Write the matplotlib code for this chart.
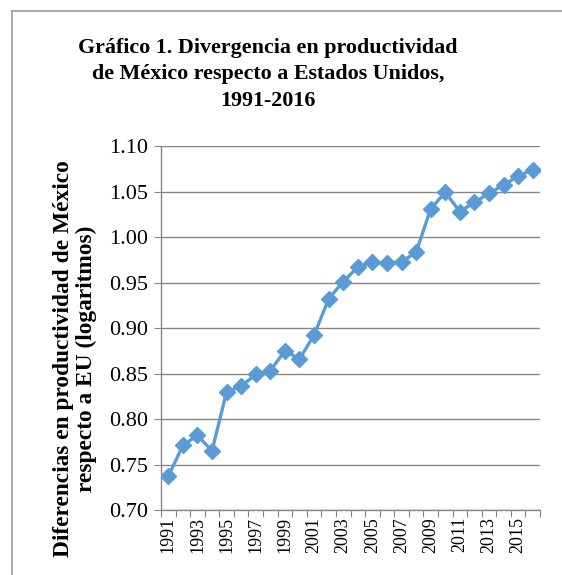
import matplotlib.pyplot as plt
from matplotlib.lines import Line2D
import numpy as np

years = list(range(1991, 2017))
valores = [0.737, 0.771, 0.782, 0.765, 0.830, 0.836, 0.849, 0.853, 0.875, 0.866,
           0.892, 0.932, 0.951, 0.967, 0.973, 0.971, 0.973, 0.983, 1.031, 1.049,
           1.028, 1.038, 1.048, 1.057, 1.067, 1.074]
yticks = [0.70, 0.75, 0.80, 0.85, 0.90, 0.95, 1.00, 1.05, 1.10]

plt.rcParams['font.family'] = ['Liberation Serif', 'DejaVu Serif']

fig = plt.figure(figsize=(5.62, 5.75), dpi=100)
ax = fig.add_axes([161/562, 65/575, 379/562, 364/575])

x = np.arange(len(years))
ax.plot(x, valores, color='#5B9BD5', linewidth=2.4, marker='D', markersize=8.5, zorder=3)

ax.set_ylim(0.70, 1.10)
ax.set_yticks(yticks)
ax.set_yticklabels([f'{v:.2f}' for v in yticks], fontsize=16)
ax.set_xlim(-0.5, len(years) - 0.5)

# marcas entre categorias, etiquetas cada dos años
ax.set_xticks(np.arange(-0.5, len(years)), labels=[])
ax.set_xticks(x[::2], labels=[str(y) for y in years[::2]], minor=True)
ax.tick_params(axis='x', which='minor', length=0, pad=5, labelsize=13, labelrotation=90)
ax.tick_params(axis='x', which='major', length=5, color='#868686', direction='out')
ax.tick_params(axis='y', length=5, color='#868686', pad=4)

ax.grid(axis='y', color='#868686', linewidth=1)
ax.set_axisbelow(True)
for s in ['top', 'right']:
    ax.spines[s].set_visible(False)
for s in ['left', 'bottom']:
    ax.spines[s].set_color('#868686')
    ax.spines[s].set_linewidth(1)

fig.text(268/562, 1 - 38/575,
         'Gráfico 1. Divergencia en productividad\nde México respecto a Estados Unidos,\n1991-2016',
         ha='center', va='top', fontsize=15.8, fontweight='bold', linespacing=1.42)

fig.text(75/562, 1 - 359/575,
         'Diferencias en productividad de México\nrespecto a EU (logaritmos)',
         ha='center', va='center', rotation=90, fontsize=16.8, fontweight='bold',
         multialignment='center', linespacing=1.08)

# borde del grafico
fig.add_artist(Line2D([12/562, 12/562], [0, 1 - 11/575], color='#9a9a9a', linewidth=1.2))
fig.add_artist(Line2D([12/562, 1], [1 - 11/575, 1 - 11/575], color='#9a9a9a', linewidth=1.2))

fig.savefig('out.png', dpi=100)
